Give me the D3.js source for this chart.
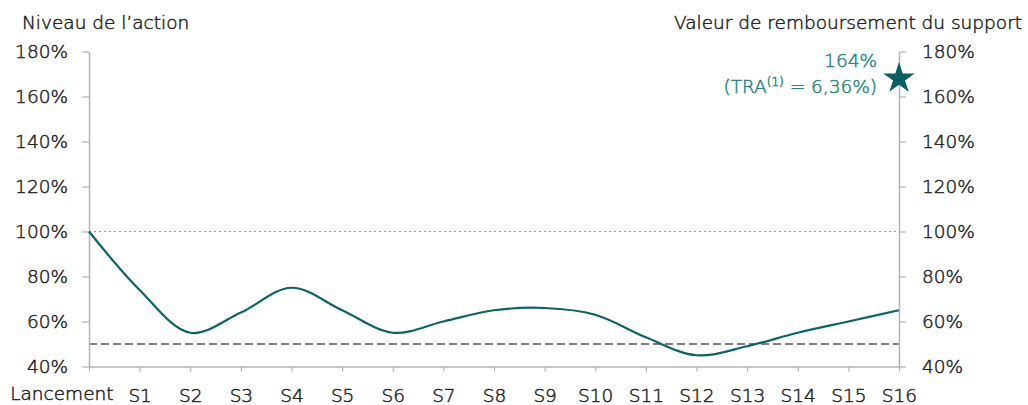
<!DOCTYPE html>
<html>
<head>
<meta charset="utf-8">
<script src="https://cdn.jsdelivr.net/npm/d3@7"></script>
<style>
  html, body { margin: 0; padding: 0; background: #fff; }
  svg { display: block; }
  text { font-family: "DejaVu Sans", sans-serif; font-weight: 200; fill: #262626; stroke: #262626; stroke-width: 0.5px; }
</style>
</head>
<body>
<svg id="chart" width="1028" height="405"></svg>
<script>
// ---- data ----
const categories = ["Lancement","S1","S2","S3","S4","S5","S6","S7","S8","S9","S10","S11","S12","S13","S14","S15","S16"];
const actionLevel = [100, 74, 55, 64, 75, 65, 55, 60, 65, 66, 63, 53, 45, 49, 55, 60, 65];
const yTicks = [40, 60, 80, 100, 120, 140, 160, 180];
const initialLevel = [100];
const barrierLevel = [50];
const finalMarkerLevel = [168];
const finalLabel = ["164%"];
const traLabel = ["(TRA", "(1)", " = 6,36%)"];
const leftTitle = "Niveau de l\u2019action";
const rightTitle = "Valeur de remboursement du support";

// ---- layout ----
const svg = d3.select("#chart");
const x = d3.scalePoint().domain(categories).range([89, 899]);
const y = d3.scaleLinear().domain([40, 180]).range([366.5, 51.5]);
const fmt = d => d + "%";
const axisColor = "#b3b3b3";
const fontSize = 18.5;

// reference lines
svg.selectAll("line.ref100").data(initialLevel).enter().append("line")
  .attr("x1", x.range()[0]).attr("x2", x.range()[1])
  .attr("y1", d => y(d)).attr("y2", d => y(d))
  .attr("stroke", "#9a9a9a").attr("stroke-width", 1).attr("stroke-dasharray", "2,3");
svg.selectAll("line.ref50").data(barrierLevel).enter().append("line")
  .attr("x1", x.range()[0]).attr("x2", x.range()[1])
  .attr("y1", d => y(d)).attr("y2", d => y(d))
  .attr("stroke", "#555").attr("stroke-width", 1.5).attr("stroke-dasharray", "8,4");

// axes
function styleAxis(g) {
  g.select(".domain").attr("stroke", axisColor).attr("stroke-width", 1.5);
  g.selectAll(".tick line").attr("stroke", axisColor).attr("stroke-width", 1.2);
  g.selectAll("text").attr("font-size", fontSize).attr("font-family", null).attr("fill", "#262626");
}
const gl = svg.append("g").attr("transform", `translate(${x.range()[0]},0)`)
  .call(d3.axisLeft(y).tickValues(yTicks).tickFormat(fmt).tickSize(7).tickSizeOuter(0).tickPadding(14));
styleAxis(gl);
const gr = svg.append("g").attr("transform", `translate(${x.range()[1]},0)`)
  .call(d3.axisRight(y).tickValues(yTicks).tickFormat(fmt).tickSize(7).tickSizeOuter(0).tickPadding(16));
styleAxis(gr);
const gb = svg.append("g").attr("transform", `translate(0,${y(40)})`)
  .call(d3.axisBottom(x).tickSize(5).tickSizeOuter(0).tickPadding(17));
styleAxis(gb);
gb.select(".domain").attr("stroke-width", 1.5);
gb.selectAll(".tick text").filter(d => d === categories[0])
  .attr("text-anchor", "end").attr("x", 24).attr("y", 20);

// titles
svg.append("text").attr("x", 22).attr("y", 29).attr("font-size", fontSize).text(leftTitle);
svg.append("text").attr("x", 1022).attr("y", 29).attr("font-size", fontSize)
  .attr("text-anchor", "end").text(rightTitle);

// line
const line = d3.line()
  .x((d, i) => x(categories[i]))
  .y(d => y(d))
  .curve(d3.curveCatmullRom.alpha(0.5));
svg.append("path").datum(actionLevel)
  .attr("d", line).attr("fill", "none")
  .attr("stroke", "#0f6368").attr("stroke-width", 2.2);

// final star
const last = categories[categories.length - 1];
svg.selectAll("path.star").data(finalMarkerLevel).enter().append("path")
  .attr("d", d3.symbol().type(d3.symbolStar).size(305)())
  .attr("transform", d => `translate(${x(last)},${y(d)})`)
  .attr("fill", "#0b5e62");

// annotation
const annColor = "#2a8282";
svg.append("text").attr("x", 877).attr("y", 67).attr("font-size", fontSize)
  .attr("text-anchor", "end").style("fill", annColor).style("stroke", annColor).text(finalLabel[0]);
const t2 = svg.append("text").attr("x", 877).attr("y", 93).attr("font-size", fontSize)
  .attr("text-anchor", "end").style("fill", annColor).style("stroke", annColor);
t2.append("tspan").text(traLabel[0]);
t2.append("tspan").attr("font-size", 12).attr("dy", -7).text(traLabel[1]);
t2.append("tspan").attr("dy", 7).text(traLabel[2]);
</script>
</body>
</html>
